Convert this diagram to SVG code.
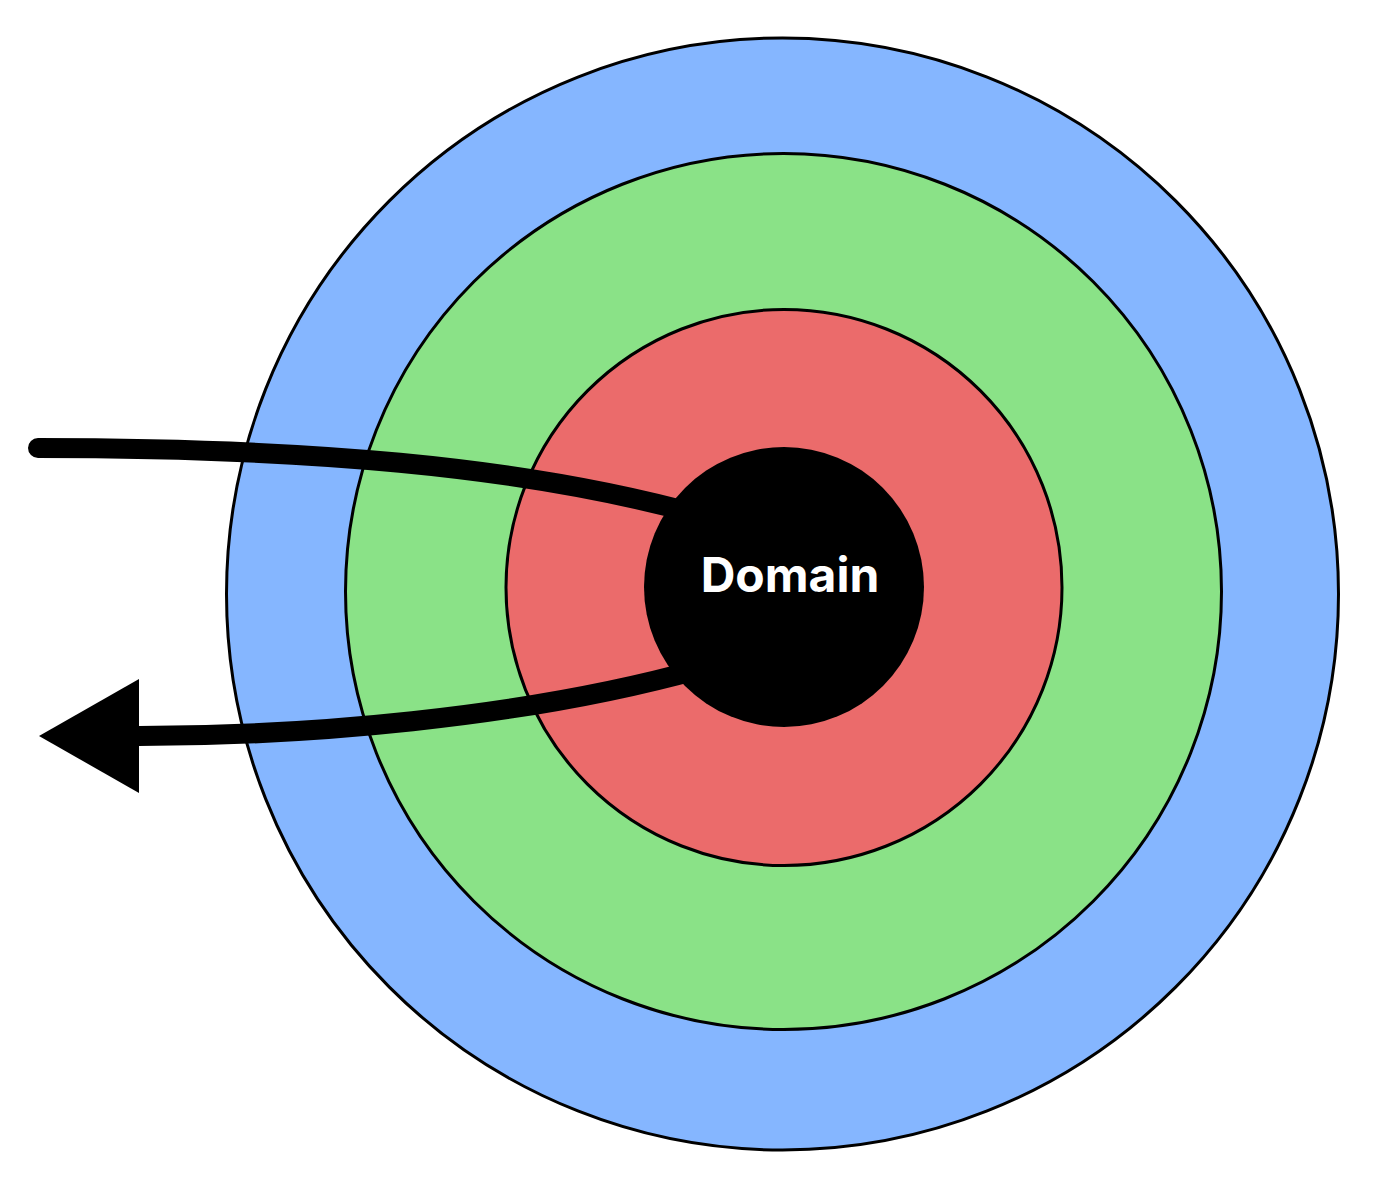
<svg xmlns="http://www.w3.org/2000/svg" width="1384" height="1188" viewBox="0 0 1384 1188">
  <style>
    .ring { stroke: #000; stroke-width: 3; }
    .conn { fill: none; stroke: #000; stroke-width: 20; }
    .label { font-family: Inter, "Liberation Sans", sans-serif; font-weight: 700; font-size: 48px; fill: #fff; text-anchor: middle; }
  </style>
  <defs>
    <marker id="arrow" markerUnits="userSpaceOnUse" viewBox="0 0 100 114" refX="0" refY="57" markerWidth="100" markerHeight="114" orient="auto">
      <path d="M0,0 L100,57 L0,114 Z" fill="#000"/>
    </marker>
  </defs>
  <rect width="1384" height="1188" fill="#fff"/>
  <g id="outer">
    <circle class="ring" cx="782.5" cy="594" r="556" fill="#85b6ff"/>
  </g>
  <g id="middle">
    <circle class="ring" cx="783.5" cy="591.5" r="438" fill="#8ae287"/>
  </g>
  <g id="inner">
    <circle class="ring" cx="784" cy="587.5" r="278" fill="#eb6b6b"/>
  </g>
  <g id="connectors">
    <path class="conn" d="M38,448 C300,448 520,465 700,515" stroke-linecap="round"/>
    <path class="conn" d="M700,669 C520,719 300,736 139,736" marker-end="url(#arrow)"/>
  </g>
  <g id="domain">
    <circle cx="784" cy="587" r="140" fill="#000"/>
    <text class="label" x="790" y="592">Domain</text>
  </g>
</svg>
